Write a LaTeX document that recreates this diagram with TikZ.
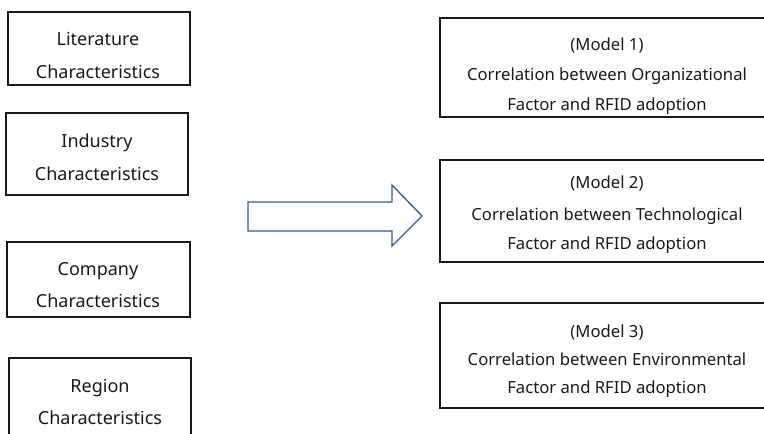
\documentclass[tikz,border=0pt]{standalone}
\usepackage{fontspec}
\setmainfont{Noto Sans}
\definecolor{arrowblue}{HTML}{385D8A}
\begin{document}
\begin{tikzpicture}[x=0.75pt,y=-0.75pt,
  box/.style={draw=black!90,line width=1.05pt,rectangle,inner sep=0pt},
  txt/.style={inner sep=0pt,anchor=base,text=black!90},
  ltxt/.style={txt,font=\fontsize{13.5pt}{15pt}\selectfont},
  rtxt/.style={txt,font=\fontsize{12.5pt}{14pt}\selectfont}]
\useasboundingbox (0,0) rectangle (764,433);
\clip (0,0) rectangle (764,433);
% left boxes
\node[box,minimum width=182*0.75pt,minimum height=73*0.75pt] (b1) at (99,48.5) {};
\node[box,minimum width=182*0.75pt,minimum height=82*0.75pt] (b2) at (97,154) {};
\node[box,minimum width=183*0.75pt,minimum height=75*0.75pt] (b3) at (98.5,279.5) {};
\node[box,minimum width=182*0.75pt,minimum height=110*0.75pt] (b4) at (100,413) {};
\node[ltxt] (t1a) at (98,45.5) {Literature};
\node[ltxt] (t1b) at (98,78) {Characteristics};
\node[ltxt] (t2a) at (97,147) {Industry};
\node[ltxt] (t2b) at (97,180) {Characteristics};
\node[ltxt] (t3a) at (98,275) {Company};
\node[ltxt] (t3b) at (98,307) {Characteristics};
\node[ltxt] (t4a) at (100,392) {Region};
\node[ltxt] (t4b) at (100,424) {Characteristics};
% right boxes
\node[box,minimum width=334*0.75pt,minimum height=99*0.75pt] (m1) at (607,67.5) {};
\node[box,minimum width=334*0.75pt,minimum height=102*0.75pt] (m2) at (607,211) {};
\node[box,minimum width=334*0.75pt,minimum height=105*0.75pt] (m3) at (607,355.5) {};
\begin{scope}
\clip (m1.north west) rectangle (m1.south east);
\node[rtxt] (m1a) at (607,50) {(Model 1)};
\node[rtxt] (m1b) at (607,80) {Correlation between Organizational};
\node[rtxt] (m1c) at (607,110) {Factor and RFID adoption};
\end{scope}
\node[rtxt] (m2a) at (607,188) {(Model 2)};
\node[rtxt] (m2b) at (607,220) {Correlation between Technological};
\node[rtxt] (m2c) at (607,249) {Factor and RFID adoption};
\node[rtxt] (m3a) at (607,337) {(Model 3)};
\node[rtxt] (m3b) at (607,365) {Correlation between Environmental};
\node[rtxt] (m3c) at (607,393) {Factor and RFID adoption};
% block arrow
\draw[draw=arrowblue,line width=1pt,fill=white,line join=miter]
  (248,202) -- (392,202) -- (392,185) -- (422,216) -- (392,246) -- (392,231) -- (248,231) -- cycle;
\end{tikzpicture}
\end{document}
